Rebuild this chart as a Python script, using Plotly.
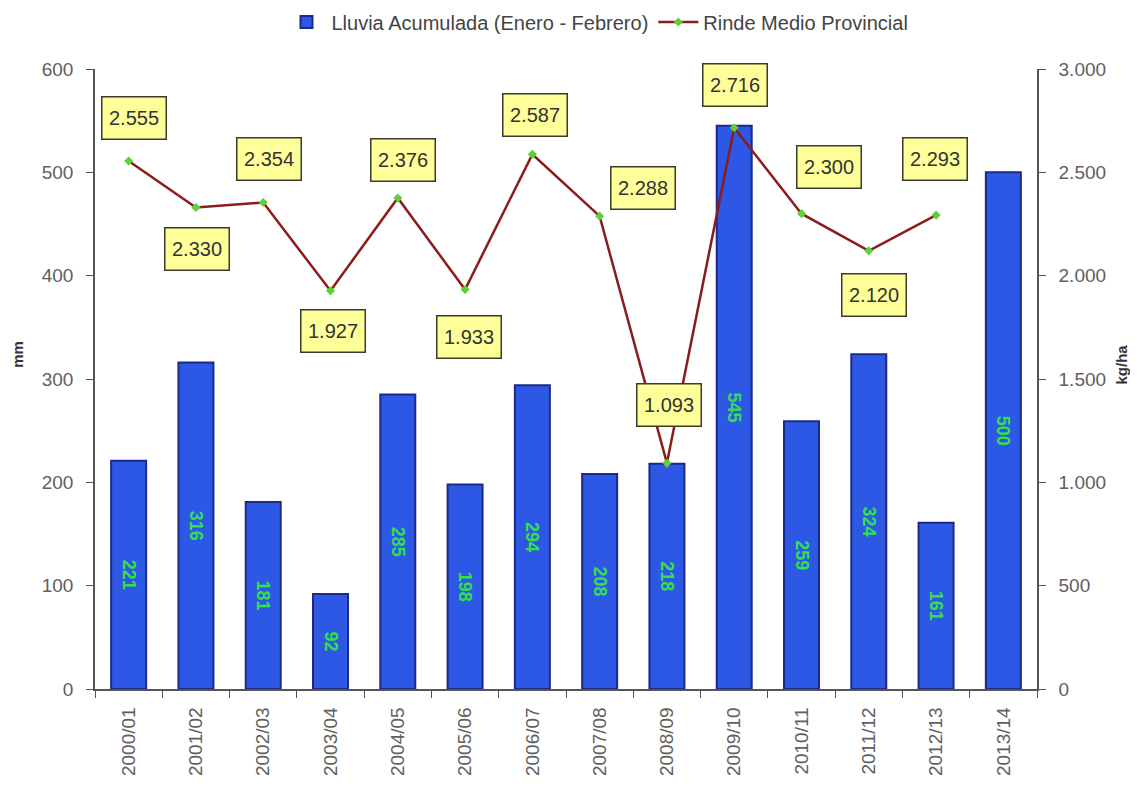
import plotly.graph_objects as go

campanias = ["2000/01", "2001/02", "2002/03", "2003/04", "2004/05", "2005/06", "2006/07",
             "2007/08", "2008/09", "2009/10", "2010/11", "2011/12", "2012/13", "2013/14"]
lluvia_mm = [221, 316, 181, 92, 285, 198, 294, 208, 218, 545, 259, 324, 161, 500]
rinde_campanias = campanias[:13]
rinde_kgha = [2555, 2330, 2354, 1927, 2376, 1933, 2587, 2288, 1093, 2716, 2300, 2120, 2293]

# label offsets in pixels (style only)
label_shift = [(5, 43), (1, -42), (6, 44), (2, -40), (5, 38), (4, -47), (3, 39),
               (43, 28), (2, 58), (1, 43), (27, 47), (5, -44), (-1, 56)]

FONT = "Liberation Sans, Arial, sans-serif"

fig = go.Figure()
fig.add_trace(go.Bar(
    x=campanias, y=lluvia_mm, name="Lluvia Acumulada (Enero - Febrero)",
    marker=dict(color="#2d58e6", line=dict(color="#1a2a86", width=2)),
    text=[f"<b>{v}</b>" for v in lluvia_mm], textposition="inside", insidetextanchor="middle",
    textangle=90, textfont=dict(color="#33e04a", size=18, family=FONT),
    yaxis="y",
))
fig.add_trace(go.Scatter(
    x=rinde_campanias, y=rinde_kgha, name="Rinde Medio Provincial", mode="lines+markers",
    line=dict(color="#8a1c1c", width=2.5),
    marker=dict(symbol="diamond", size=7, color="#5fd03a"),
    yaxis="y2",
))

def fmt(v):
    return f"{v:,}".replace(",", ".")

for xc, v, (dx, dy) in zip(rinde_campanias, rinde_kgha, label_shift):
    fig.add_annotation(
        x=xc, y=v, xref="x", yref="y2", text=fmt(v), showarrow=False,
        xshift=dx, yshift=dy, xanchor="center", yanchor="middle",
        bgcolor="#ffff99", bordercolor="#3a3a2a", borderwidth=1.5, borderpad=4,
        width=55, height=33, font=dict(size=20, color="#333333", family=FONT),
    )

# axis titles
fig.add_annotation(text="<b>mm</b>", xref="paper", yref="paper", x=-0.0817, y=0.539,
                   xanchor="center", yanchor="middle",
                   textangle=-90, showarrow=False, font=dict(size=15, color="#333333", family=FONT))
fig.add_annotation(text="<b>kg/ha</b>", xref="paper", yref="paper", x=1.090, y=0.523,
                   xanchor="center", yanchor="middle",
                   textangle=-90, showarrow=False, font=dict(size=15, color="#333333", family=FONT))

axis_common = dict(showline=True, linecolor="#555555", linewidth=1.5, ticks="outside",
                   ticklen=7, tickcolor="#555555", showgrid=False, zeroline=False,
                   automargin=False, ticklabelstandoff=9,
                   tickfont=dict(size=19, color="#606060", family=FONT))

fig.update_layout(
    width=1138, height=789,
    margin=dict(l=87, r=109, t=61, b=108),
    paper_bgcolor="white", plot_bgcolor="white",
    separators=",.",
    bargap=0.48,
    font=dict(family=FONT, color="#444444"),
    xaxis=dict(**axis_common, tickangle=-90, tickson="boundaries", type="category",
               range=[-0.5, 13.5]),
    yaxis=dict(**axis_common, range=[0, 600], dtick=100),
    yaxis2=dict(**axis_common, range=[0, 3000], dtick=500, overlaying="y", side="right",
                tickformat=",d"),
    legend=dict(orientation="h", x=0.518, xanchor="center", xref="container",
                y=1 - 14 / 789, yanchor="middle", yref="container",
                font=dict(size=20, color="#444444", family=FONT), itemwidth=40,
                traceorder="normal"),
    showlegend=True,
)

fig.write_html("out.html")
